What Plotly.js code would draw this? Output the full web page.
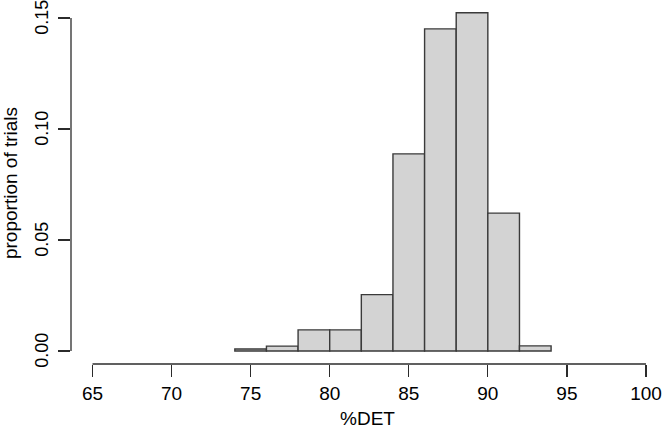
<!DOCTYPE html>
<html>
<head>
<meta charset="utf-8">
<script src="https://cdn.plot.ly/plotly-3.0.1.min.js"></script>
<style>html,body{margin:0;padding:0;background:#fff;}#chart{width:664px;height:434px;}</style>
</head>
<body>
<div id="chart"></div>
<script>
// Histogram bins (%DET) and densities (proportion of trials)
var binStarts = [74, 76, 78, 80, 82, 84, 86, 88, 90, 92];
var binWidth = 2;
var density = [0.0009, 0.0022, 0.0095, 0.0095, 0.0254, 0.0888, 0.1451, 0.1524, 0.0621, 0.0023];
var xTicks = [65, 70, 75, 80, 85, 90, 95, 100];
var yTicks = [0, 0.05, 0.10, 0.15];
var yTickText = ["0.00", "0.05", "0.10", "0.15"];

var axisColor = '#2b2b2b';
var fontFam = '"Liberation Sans", Arial, Helvetica, sans-serif';

var trace = {
  type: 'bar',
  x: binStarts,
  y: density,
  width: binStarts.map(function(){ return binWidth; }),
  offset: 0,
  marker: { color: '#d3d3d3', line: { color: '#3a3a3a', width: 1.4 } },
  hoverinfo: 'x+y'
};

var layout = {
  width: 664, height: 434,
  margin: { l: 71, r: 0, t: 2, b: 70, pad: 0 },
  paper_bgcolor: '#ffffff', plot_bgcolor: '#ffffff',
  showlegend: false,
  font: { family: fontFam, size: 19, color: '#000' },
  bargap: 0,
  xaxis: {
    range: [63.64, 101.14],
    tickvals: xTicks,
    ticktext: xTicks.map(String),
    ticks: 'outside', ticklen: 12, tickwidth: 1.3, tickcolor: axisColor,
    showline: false, showgrid: false, zeroline: false,
    ticklabeloverflow: 'allow',
    tickfont: { family: fontFam, size: 19, color: '#000' },
    title: { text: '%DET', font: { family: fontFam, size: 19, color: '#000' }, standoff: 8 }
  },
  yaxis: {
    range: [-0.005856, 0.15721],
    tickvals: yTicks,
    ticktext: yTickText,
    tickangle: -90,
    ticks: 'outside', ticklen: 12, tickwidth: 1.3, tickcolor: axisColor,
    showline: false, showgrid: false, zeroline: false,
    ticklabeloverflow: 'allow',
    ticklabelstandoff: 3,
    ticklabelshift: 2,
    tickfont: { family: fontFam, size: 18, color: '#000' },
    title: { text: 'proportion of trials', font: { family: fontFam, size: 19, color: '#000' }, standoff: 10 }
  },
  shapes: [
    { type: 'line', xref: 'x', yref: 'paper', x0: xTicks[0], x1: xTicks[xTicks.length-1], y0: 0, y1: 0,
      line: { color: axisColor, width: 1.3 } },
    { type: 'line', xref: 'paper', yref: 'y', x0: 0, x1: 0, y0: yTicks[0], y1: yTicks[yTicks.length-1],
      line: { color: axisColor, width: 1.3 } }
  ]
};

Plotly.newPlot('chart', [trace], layout, { displayModeBar: false, staticPlot: true });
</script>
</body>
</html>
